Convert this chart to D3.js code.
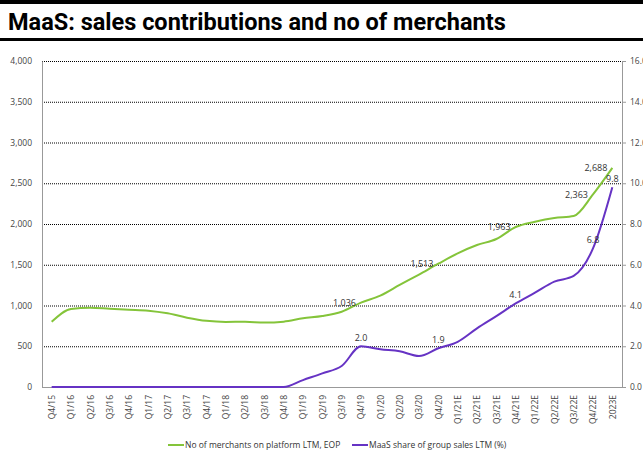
<!DOCTYPE html>
<html>
<head>
<meta charset="utf-8">
<script src="https://cdn.jsdelivr.net/npm/d3@7/dist/d3.min.js"></script>
<style>
  html, body { margin: 0; padding: 0; background: #fff; }
  svg { display: block; }
</style>
</head>
<body>
<svg id="chart" width="643" height="457"></svg>
<script>
// Quarters (E = estimate)
const quarters = ["Q4/15","Q1/16","Q2/16","Q3/16","Q4/16","Q1/17","Q2/17","Q3/17","Q4/17",
  "Q1/18","Q2/18","Q3/18","Q4/18","Q1/19","Q2/19","Q3/19","Q4/19","Q1/20","Q2/20","Q3/20","Q4/20",
  "Q1/21E","Q2/21E","Q3/21E","Q4/21E","Q1/22E","Q2/22E","Q3/22E","Q4/22E","2023E"];

// No of merchants on platform LTM, EOP (left axis)
const merchants = [800, 957, 973, 961, 949, 937, 904, 851, 812, 798, 801, 790, 802, 843, 871, 924,
  1036, 1121, 1252, 1380, 1513, 1640, 1742, 1816, 1963, 2028, 2074, 2098, 2363, 2688];

// MaaS share of group sales LTM, % (right axis)
const maasShare = [0, 0, 0, 0, 0, 0, 0, 0, 0, 0, 0, 0, 0, 0.34, 0.67, 1.03,
  2.0, 1.85, 1.75, 1.52, 1.9, 2.22, 2.88, 3.48, 4.1, 4.63, 5.17, 5.45, 6.8, 9.8];

// Points carrying value labels
const merchantLabelIdx = [16, 20, 24, 28, 29];
const shareLabelIdx = [16, 20, 24, 28, 29];

const leftTicks = [0, 500, 1000, 1500, 2000, 2500, 3000, 3500, 4000];
const rightTicks = [0, 2, 4, 6, 8, 10, 12, 14, 16];

const seriesNames = ["No of merchants on platform LTM, EOP", "MaaS share of group sales LTM (%)"];
const colors = ["#84c43a", "#6633c4"];

const svg = d3.select("#chart");
const W = 643, H = 457;
const m = { left: 42, right: 21, top: 61, bottom: 70 };
const plotW = W - m.left - m.right;   // 580
const plotH = H - m.top - m.bottom;   // 326

const FONT = "'Open Sans', 'DejaVu Sans', sans-serif";

// Header bars and title
svg.append("rect").attr("x", 0).attr("y", 0).attr("width", W).attr("height", 4).attr("fill", "#000");
svg.append("text")
  .attr("x", 8).attr("y", 30)
  .attr("font-family", "Roboto, 'Liberation Sans', sans-serif")
  .attr("font-weight", "bold")
  .attr("font-size", 23.5)
  .attr("fill", "#000")
  .text("MaaS: sales contributions and no of merchants");
svg.append("rect").attr("x", 0).attr("y", 38).attr("width", W).attr("height", 3).attr("fill", "#000");

const x = d3.scalePoint().domain(quarters).range([m.left, m.left + plotW]).padding(0.5);
const yL = d3.scaleLinear().domain([0, 4000]).range([m.top + plotH, m.top]);
const yR = d3.scaleLinear().domain([0, 16]).range([m.top + plotH, m.top]);

// Dotted gridlines
svg.append("g").selectAll("line").data(leftTicks.filter(d => d > 0)).join("line")
  .attr("x1", m.left).attr("x2", m.left + plotW)
  .attr("y1", d => yL(d) + 0.5).attr("y2", d => yL(d) + 0.5)
  .attr("stroke", "#000").attr("stroke-width", 1).attr("stroke-dasharray", "1,1");

// Left axis
const gL = svg.append("g").attr("transform", `translate(${m.left},0)`)
  .call(d3.axisLeft(yL).tickValues(leftTicks).tickFormat(d3.format(",")).tickSize(0).tickPadding(10));
gL.select(".domain").attr("stroke", "#999");
gL.selectAll("text").attr("font-family", FONT).attr("font-size", 8.5).attr("fill", "#444");

// Right axis
const gR = svg.append("g").attr("transform", `translate(${m.left + plotW},0)`)
  .call(d3.axisRight(yR).tickValues(rightTicks).tickFormat(d3.format(".1f")).tickSize(4).tickPadding(4));
gR.select(".domain").attr("stroke", "#999");
gR.selectAll(".tick line").attr("stroke", "#999");
gR.selectAll("text").attr("font-family", FONT).attr("font-size", 8.5).attr("fill", "#444");

// Bottom axis
const gB = svg.append("g").attr("transform", `translate(0,${m.top + plotH})`)
  .call(d3.axisBottom(x).tickSize(0).tickPadding(0));
gB.select(".domain").attr("stroke", "#999").attr("d", `M${m.left},0.5H${m.left + plotW}`);
gB.selectAll("text")
  .attr("font-family", FONT).attr("font-size", 8.5).attr("fill", "#444")
  .attr("text-anchor", "end")
  .attr("transform", "translate(0,8) rotate(-90)")
  .attr("x", 0).attr("y", 0).attr("dy", "0.35em");

// Lines
const lineL = d3.line().x((d, i) => x(quarters[i])).y(d => yL(d)).curve(d3.curveMonotoneX);
const lineR = d3.line().x((d, i) => x(quarters[i])).y(d => yR(d)).curve(d3.curveMonotoneX);

svg.append("path").datum(merchants).attr("d", lineL)
  .attr("fill", "none").attr("stroke", colors[0]).attr("stroke-width", 2);
svg.append("path").datum(maasShare).attr("d", lineR)
  .attr("fill", "none").attr("stroke", colors[1]).attr("stroke-width", 2);

// Value labels
svg.append("g").selectAll("text").data(merchantLabelIdx).join("text")
  .attr("x", i => x(quarters[i]) - 5)
  .attr("y", i => yL(merchants[i]))
  .attr("dy", "0.35em")
  .attr("text-anchor", "end")
  .attr("font-family", FONT).attr("font-size", 9).attr("fill", "#333")
  .text(i => d3.format(",")(merchants[i]));

svg.append("g").selectAll("text").data(shareLabelIdx).join("text")
  .attr("x", i => x(quarters[i]))
  .attr("y", i => yR(maasShare[i]) - 5)
  .attr("text-anchor", "middle")
  .attr("font-family", FONT).attr("font-size", 9).attr("fill", "#333")
  .text(i => d3.format(".1f")(maasShare[i]));

// Legend
const legendItems = [{ x: 168, i: 0 }, { x: 352, i: 1 }];
const lg = svg.append("g").selectAll("g").data(legendItems).join("g")
  .attr("transform", d => `translate(${d.x},445)`);
lg.append("line").attr("x1", 0).attr("x2", 16).attr("y1", 0).attr("y2", 0)
  .attr("stroke", d => colors[d.i]).attr("stroke-width", 2);
lg.append("text").attr("x", 17).attr("y", 0).attr("dy", "0.35em")
  .attr("font-family", FONT).attr("font-size", 8.5).attr("fill", "#333")
  .text(d => seriesNames[d.i]);
</script>
</body>
</html>
